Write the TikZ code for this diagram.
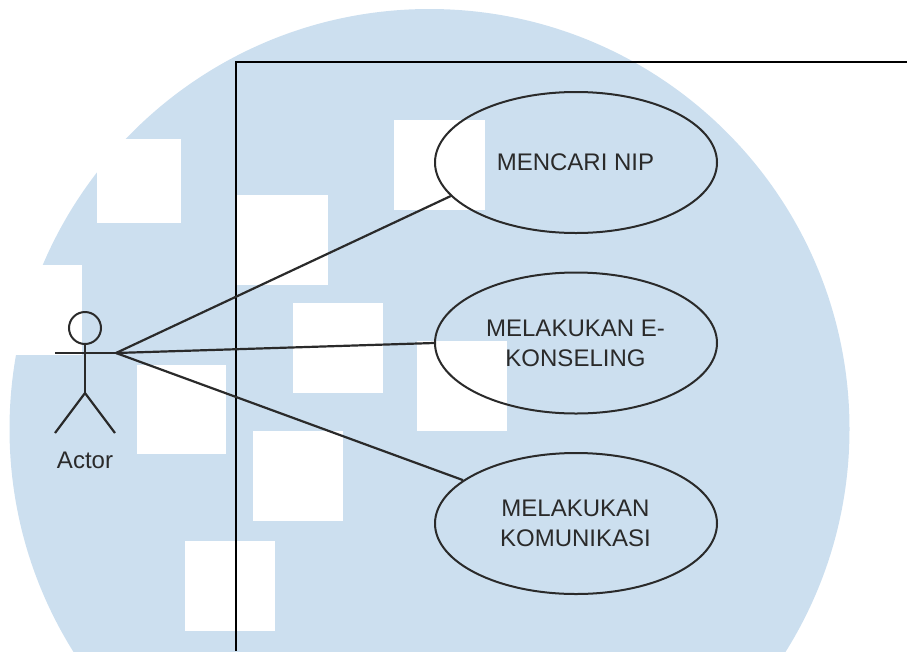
\documentclass[tikz,border=0pt]{standalone}
\usepackage{fontspec}
\setmainfont{Liberation Sans}
\usetikzlibrary{shapes.geometric}
\definecolor{bgblue}{HTML}{CCDFEF}
\definecolor{inkc}{HTML}{2A2A2A}
\tikzset{
  x=1pt,y=-1pt,
  hole/.style={fill=white,draw=none},
  usecase/.style={ellipse,draw=inkc,line width=2pt,minimum width=282pt,minimum height=141pt,inner sep=0pt,align=center,text=inkc,font=\fontsize{24}{30}\selectfont},
  link/.style={draw=inkc,line width=2.2pt},
  frameline/.style={draw=black,line width=2pt},
  label/.style={text=inkc,font=\fontsize{24}{30}\selectfont,inner sep=0pt}
}
\begin{document}
\begin{tikzpicture}
\clip (0,0) rectangle (907,651);
\useasboundingbox (0,0) rectangle (907,651);
\fill[bgblue] (429.5,429) circle[radius=420pt];
\fill[hole] (97,139) rectangle (181,222.5);
\fill[hole] (237,194.5) rectangle (328,285);
\fill[hole] (394,120) rectangle (485,210);
\fill[hole] (293,303) rectangle (383,393);
\fill[hole] (417,341) rectangle (507,431);
\fill[hole] (137,365) rectangle (226,454);
\fill[hole] (253,431) rectangle (343,521);
\fill[hole] (185,541) rectangle (275,631);
\fill[hole] (0,265) rectangle (82,355);
\coordinate (frametop) at (235.5,62);
\coordinate (frameright) at (907,62);
\coordinate (framebottom) at (235.5,651);
\draw[frameline] (framebottom) -- (frametop) -- (frameright);
\node[usecase] (m1) at (576,162.5) {\hspace*{-1pt}MENCARI NIP};
\node[usecase] (m2) at (576,343) {\hspace*{-1pt}MELAKUKAN E-\\\hspace*{-1pt}KONSELING};
\node[usecase] (m3) at (576,523.5) {\hspace*{-1pt}MELAKUKAN\\\hspace*{-1pt}KOMUNIKASI};
\node[draw=inkc,line width=2pt,circle,minimum size=32pt,inner sep=0pt] (head) at (85,328) {};
\coordinate (hip) at (85,393);
\coordinate (handl) at (55,353);
\coordinate (handr) at (116,353);
\coordinate (footl) at (55,433);
\coordinate (footr) at (115,433);
\draw[link] (head.south) -- (hip);
\draw[link] (handl) -- (handr);
\draw[link] (footl) -- (hip) -- (footr);
\node[label] (actor) at (85,460) {Actor};
\draw[link] (handr) -- (m1.195.5);
\draw[link] (handr) -- (m2.west);
\draw[link] (handr) -- (m3.159.4);
\end{tikzpicture}
\end{document}
